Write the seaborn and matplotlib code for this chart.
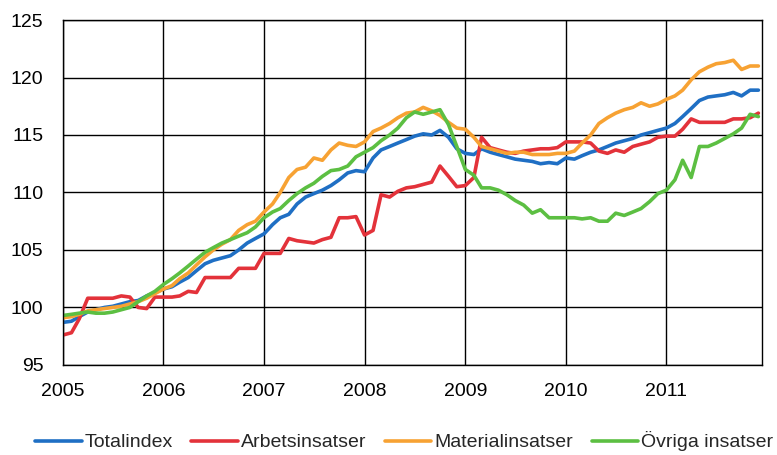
import pandas as pd
import numpy as np
import matplotlib
matplotlib.use("Agg")
import matplotlib.pyplot as plt
import matplotlib.dates as mdates
import seaborn as sns

# ─────────────────────────────────────────
# DATA (monthly index, 2005-01 .. 2011-12)
# ─────────────────────────────────────────
months = pd.date_range("2005-01-01", "2011-12-01", freq="MS")

totalindex = [
    98.7, 98.8, 99.2, 99.6, 99.8, 100.0, 100.1, 100.3, 100.5, 100.6, 101.0, 101.3,
    101.6, 101.8, 102.2, 102.6, 103.2, 103.8, 104.1, 104.3, 104.5, 105.0, 105.6, 106.0,
    106.4, 107.2, 107.8, 108.1, 109.0, 109.6, 109.9, 110.2, 110.6, 111.1, 111.7, 111.9,
    111.8, 113.0, 113.7, 114.0, 114.3, 114.6, 114.9, 115.1, 115.0, 115.4, 114.8, 113.8,
    113.4, 113.3, 113.8, 113.5, 113.3, 113.1, 112.9, 112.8, 112.7, 112.5, 112.6, 112.5,
    113.0, 112.9, 113.2, 113.5, 113.7, 114.0, 114.3, 114.5, 114.7, 115.0, 115.2, 115.4,
    115.6, 116.0, 116.6, 117.3, 118.0, 118.3, 118.4, 118.5, 118.7, 118.4, 118.9, 118.9,
]
arbetsinsatser = [
    97.6, 97.8, 99.0, 100.8, 100.8, 100.8, 100.8, 101.0, 100.9, 100.0, 99.9, 100.9,
    100.9, 100.9, 101.0, 101.4, 101.3, 102.6, 102.6, 102.6, 102.6, 103.4, 103.4, 103.4,
    104.7, 104.7, 104.7, 106.0, 105.8, 105.7, 105.6, 105.9, 106.1, 107.8, 107.8, 107.9,
    106.3, 106.7, 109.8, 109.6, 110.1, 110.4, 110.5, 110.7, 110.9, 112.3, 111.4, 110.5,
    110.6, 111.3, 114.8, 113.9, 113.7, 113.5, 113.4, 113.6, 113.7, 113.8, 113.8, 113.9,
    114.4, 114.4, 114.4, 114.3, 113.6, 113.4, 113.7, 113.5, 114.0, 114.2, 114.4, 114.8,
    114.9, 114.9, 115.5, 116.4, 116.1, 116.1, 116.1, 116.1, 116.4, 116.4, 116.5, 116.9,
]
materialinsatser = [
    99.1, 99.2, 99.4, 99.7, 99.8, 99.9, 100.0, 100.1, 100.3, 100.5, 100.8, 101.2,
    101.6, 101.9, 102.5, 103.0, 103.7, 104.4, 105.0, 105.5, 105.9, 106.7, 107.2, 107.5,
    108.3, 109.0, 110.0, 111.3, 112.0, 112.2, 113.0, 112.8, 113.7, 114.3, 114.1, 114.0,
    114.4, 115.3, 115.6, 116.0, 116.5, 116.9, 117.0, 117.4, 117.1, 116.7, 116.1, 115.6,
    115.5, 114.8, 114.0, 113.8, 113.6, 113.4, 113.5, 113.5, 113.3, 113.3, 113.3, 113.4,
    113.4, 113.6, 114.3, 115.0, 116.0, 116.5, 116.9, 117.2, 117.4, 117.8, 117.5, 117.7,
    118.1, 118.4, 118.9, 119.8, 120.5, 120.9, 121.2, 121.3, 121.5, 120.7, 121.0, 121.0,
]
ovriga = [
    99.3, 99.4, 99.5, 99.6, 99.5, 99.5, 99.6, 99.8, 100.0, 100.5, 101.0, 101.4,
    102.0, 102.5, 103.0, 103.6, 104.2, 104.8, 105.2, 105.6, 105.9, 106.2, 106.5, 107.0,
    107.8, 108.3, 108.6, 109.3, 109.9, 110.4, 110.8, 111.4, 111.9, 112.0, 112.3, 113.1,
    113.5, 113.9, 114.5, 115.0, 115.6, 116.5, 117.0, 116.8, 117.0, 117.2, 115.9, 114.0,
    112.0, 111.5, 110.4, 110.4, 110.2, 109.8, 109.3, 108.9, 108.2, 108.5, 107.8, 107.8,
    107.8, 107.8, 107.7, 107.8, 107.5, 107.5, 108.2, 108.0, 108.3, 108.6, 109.2, 109.9,
    110.2, 111.1, 112.8, 111.3, 114.0, 114.0, 114.3, 114.7, 115.1, 115.6, 116.8, 116.6,
]

series_names = ["Totalindex", "Arbetsinsatser", "Materialinsatser", "Övriga insatser"]
colors = ["#1f6fc4", "#e3323a", "#f7a233", "#5cbf42"]

df = pd.DataFrame({
    "month": months,
    series_names[0]: totalindex,
    series_names[1]: arbetsinsatser,
    series_names[2]: materialinsatser,
    series_names[3]: ovriga,
})
long_df = df.melt(id_vars="month", var_name="serie", value_name="index")

# ─────────────────────────────────────────
# PLOT
# ─────────────────────────────────────────
sns.set_style("white")
plt.rcParams["font.family"] = ["Liberation Sans", "DejaVu Sans"]

fig = plt.figure(figsize=(7.77, 4.55), dpi=100)
ax = fig.add_axes([0.081, 0.198, 0.900, 0.758])

sns.lineplot(data=long_df, x="month", y="index", hue="serie",
             hue_order=series_names, palette=colors, linewidth=2.6,
             ax=ax, legend=False)

ax.set_ylim(95, 125)
ax.set_yticks(range(95, 126, 5))
ax.set_xlim(pd.Timestamp("2005-01-01"), pd.Timestamp("2011-12-15"))
ax.set_xticks([pd.Timestamp(f"{y}-01-01") for y in range(2005, 2012)])
ax.xaxis.set_major_formatter(mdates.DateFormatter("%Y"))
ax.set_xlabel("")
ax.set_ylabel("")

ax.grid(True, color="black", linewidth=1.0)
ax.set_axisbelow(True)
for sp in ax.spines.values():
    sp.set_color("black")
    sp.set_linewidth(1.0)
ax.tick_params(axis="both", direction="out", length=6, width=1,
               color="black", labelsize=14, labelcolor="black")
ax.tick_params(axis="x", pad=7)
ax.tick_params(axis="y", pad=8)

handles = [plt.Line2D([], [], color=c, linewidth=2.6) for c in colors]
fig.legend(handles, series_names, loc="center", bbox_to_anchor=(0.52, 0.03),
           ncol=4, frameon=False, fontsize=14, handlelength=2.4,
           handletextpad=0.15, columnspacing=0.95)

fig.savefig("out.png", dpi=100)
